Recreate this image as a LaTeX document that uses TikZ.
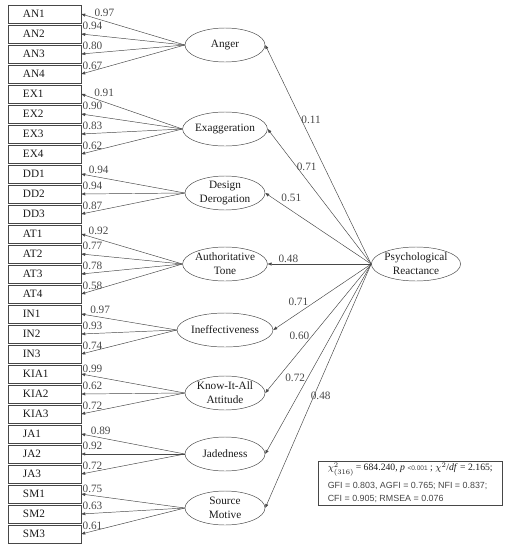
\documentclass[tikz,border=0pt]{standalone}
\usepackage{fontspec}
\setmainfont{Liberation Serif}
\newfontfamily\fitsans{Liberation Sans}
\usetikzlibrary{arrows.meta,shapes.geometric}
\definecolor{semline}{HTML}{474747}
\definecolor{semtext}{HTML}{1A1A1A}
\definecolor{semgray}{HTML}{454545}
\newcommand{\fitfont}{\fitsans\fontsize{7.6}{10.2}\selectfont\color{semgray}}

\begin{document}
\begin{tikzpicture}[x=0.03cm,y=-0.03cm,font=\fontsize{9.6}{11.8}\selectfont,text=semtext,
  ind/.style={rectangle,draw=semline,thin,minimum height=0.54cm,text width=1.29cm,inner xsep=0.45cm,inner ysep=0pt,align=left},
  lat/.style={ellipse,draw=semline,thin,minimum width=2.4cm,minimum height=1.02cm,inner sep=0pt,align=center},
  ar/.style={-{Triangle[length=1.2mm,width=0.9mm]},semline,thin},
  ld/.style={inner sep=1pt,anchor=south west}]
\useasboundingbox (0,0) rectangle (513,550);
% ---- latent factors ----
\node[lat] (an) at (225,45) {Anger};
\node[lat] (ex) at (225,129) {Exaggeration};
\node[lat] (dd) at (225,193) {Design\\Derogation};
\node[lat] (at) at (225,264) {Authoritative\\Tone};
\node[lat] (ine) at (225,330) {Ineffectiveness};
\node[lat] (kia) at (225,393) {Know-It-All\\Attitude};
\node[lat] (ja) at (225,454) {Jadedness};
\node[lat] (sm) at (225,508) {Source\\Motive};
\node[lat,minimum width=2.34cm] (pr) at (416,264) {Psychological\\Reactance};
% ---- indicators and loadings ----
\foreach \i/\f/\v/\l/\p/\dy in {0/an/AN1/0.97/0.885/0pt,1/an/AN2/0.94/1/2.5pt,2/an/AN3/0.80/1/2.5pt,3/an/AN4/0.67/1/2.5pt,
  4/ex/EX1/0.91/0.885/0pt,5/ex/EX2/0.90/1/2.5pt,6/ex/EX3/0.83/1/2.5pt,7/ex/EX4/0.62/1/2.5pt,
  8/dd/DD1/0.94/0.94/0pt,9/dd/DD2/0.94/1/2.5pt,10/dd/DD3/0.87/1/2.5pt,
  11/at/AT1/0.92/0.94/0pt,12/at/AT2/0.77/1/2.5pt,13/at/AT3/0.78/1/2.5pt,14/at/AT4/0.58/1/2.5pt,
  15/ine/IN1/0.97/0.92/0pt,16/ine/IN2/0.93/1/2.5pt,17/ine/IN3/0.74/1/2.5pt,
  18/kia/KIA1/0.99/1/0pt,19/kia/KIA2/0.62/1/2.5pt,20/kia/KIA3/0.72/1/2.5pt,
  21/ja/JA1/0.89/0.92/0pt,22/ja/JA2/0.92/1/2.5pt,23/ja/JA3/0.72/1/2.5pt,
  24/sm/SM1/0.75/1/0pt,25/sm/SM2/0.63/1/2.5pt,26/sm/SM3/0.61/1/2.5pt}{
  \node[ind] (\v) at (44.5,14+20*\i) {\v};
  \draw[ar] (\f.west) -- (\v.east) node[ld,pos=\p,yshift=\dy] {\l};}
% ---- structural paths ----
\draw[ar] (pr.west) -- (an.east) node[pos=0.66,anchor=west,inner sep=0pt] {0.11};
\draw[ar] (pr.west) -- (ex.east) node[pos=0.72,anchor=west,inner sep=0pt] {0.71};
\draw[ar] (pr.west) -- (dd.east) node[pos=0.86,anchor=south west,inner sep=1pt] {0.51};
\draw[ar] (pr.west) -- (at.east) node[pos=0.8,anchor=south,inner sep=1pt] {0.48};
\draw[ar] (pr.west) -- (ine.east) node[pos=0.64,anchor=south east,inner sep=0pt] {0.71};
\draw[ar] (pr.west) -- (kia.east) node[pos=0.56,anchor=east,inner sep=2pt] {0.60};
\draw[ar] (pr.west) -- (ja.east) node[pos=0.6,anchor=east,inner sep=2pt] {0.72};
\draw[ar] (pr.west) -- (sm.east) node[pos=0.54,anchor=west,inner sep=0pt,xshift=-1mm] {0.48};
% ---- fit indices ----
\node[draw=semline,thin,anchor=north west,minimum width=5.52cm,minimum height=1.26cm,inner xsep=0.11cm,inner ysep=1.5pt,align=left] (fit) at (318,461)
  {\fontsize{8.3}{10}\selectfont\(\chi^2_{(316)}\)\,= 684.240, \textit{p} {\fitsans\fontsize{5.6}{6}\selectfont\color{semgray}<0.001} ; \(\chi^2\)/\textit{df} = 2.165;\\[3pt]
   \fitfont GFI = 0.803, AGFI = 0.765; NFI = 0.837;\\
   \fitfont CFI = 0.905; RMSEA = 0.076};
\end{tikzpicture}
\end{document}
